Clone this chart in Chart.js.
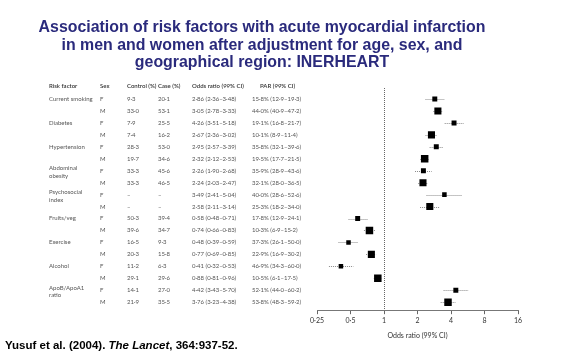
<!DOCTYPE html>
<html>
<head>
<meta charset="utf-8">
<script src="https://cdn.jsdelivr.net/npm/chart.js@4.4.0/dist/chart.umd.min.js"></script>
<style>
  body { margin: 0; background: #fff; }
  #wrap { position: relative; width: 571px; height: 360px; overflow: hidden; }
  #chart { position: absolute; left: 0; top: 0; }
  #title {
    position: absolute; left: 0; top: 18px; width: 524px;
    text-align: center; font: bold 15.9px "Liberation Sans", Arial, sans-serif;
    line-height: 17.5px; color: #2a2a7c;
  }
  #cite {
    position: absolute; left: 5px; top: 339px;
    font: bold 11.5px "Liberation Sans", Arial, sans-serif; color: #000;
  }
</style>
</head>
<body>
<div id="wrap">
  <canvas id="chart" width="571" height="360"></canvas>
  <div id="title">Association of risk factors with acute myocardial infarction<br>in men and women after adjustment for age, sex, and<br>geographical region: INERHEART</div>
  <div id="cite">Yusuf et al. (2004). <i>The Lancet</i>, 364:937-52.</div>
</div>
<script>
// Table rows (F/M pairs per risk factor)
var riskFactors = ['Current smoking', 'Diabetes', 'Hypertension', 'Abdominal\nobesity',
    'Psychosocial\nindex', 'Fruits/veg', 'Exercise', 'Alcohol', 'ApoB/ApoA1\nratio'];
var sexes = ['F', 'M'];
var controlPct = ['9·3', '33·0', '7·9', '7·4', '28·3', '19·7', '33·3', '33·3', '–', '–',
    '50·3', '39·6', '16·5', '20·3', '11·2', '29·1', '14·1', '21·9'];
var casePct = ['20·1', '53·1', '25·5', '16·2', '53·0', '34·6', '45·6', '46·5', '–', '–',
    '39·4', '34·7', '9·3', '15·8', '6·3', '29·6', '27·0', '35·5'];
var oddsRatio = [2.86, 3.05, 4.26, 2.67, 2.95, 2.32, 2.26, 2.24, 3.49, 2.58,
    0.58, 0.74, 0.48, 0.77, 0.41, 0.88, 4.42, 3.76];
var ciLow = [2.36, 2.78, 3.51, 2.36, 2.57, 2.12, 1.90, 2.03, 2.41, 2.11,
    0.48, 0.66, 0.39, 0.69, 0.32, 0.81, 3.43, 3.23];
var ciHigh = [3.48, 3.33, 5.18, 3.02, 3.39, 2.53, 2.68, 2.47, 5.04, 3.14,
    0.71, 0.83, 0.59, 0.85, 0.53, 0.96, 5.70, 4.38];
var parText = ['15·8% (12·9–19·3)', '44·0% (40·9–47·2)', '19·1% (16·8–21·7)', '10·1% (8·9–11·4)',
    '35·8% (32·1–39·6)', '19·5% (17·7–21·5)', '35·9% (28·9–43·6)', '32·1% (28·0–36·5)',
    '40·0% (28·6–52·6)', '25·3% (18·2–34·0)', '17·8% (12·9–24·1)', '10·3% (6·9–15·2)',
    '37·3% (26·1–50·0)', '22·9% (16·9–30·2)', '46·9% (34·3–60·0)', '10·5% (6·1–17·5)',
    '52·1% (44·0–60·2)', '53·8% (48·3–59·2)'];
var xTicks = [0.25, 0.5, 1, 2, 4, 8, 16];
var headers = ['Risk factor', 'Sex', 'Control (%)', 'Case (%)', 'Odds ratio (99% CI)', 'PAR (99% CI)'];

// marker half-sizes (style only)
var markerRadius = [3.5, 5, 3.5, 5, 3.5, 5.3, 3.5, 5, 3.2, 5, 3.5, 5.3, 3.2, 5, 3.2, 5.3, 3.5, 5.3];

var fmt = function (v) { return v.toFixed(2).replace('.', '·'); };

var points = oddsRatio.map(function (v, i) { return { x: v, y: i }; });

var tableFont = '6px Lato, "DejaVu Sans", sans-serif';
var colX = [49, 100, 127, 158, 192, 252];

var tablePlugin = {
    id: 'forestTable',
    beforeDatasetsDraw: function (chart) {
        var c = chart.ctx, xs = chart.scales.x, ys = chart.scales.y;
        // confidence intervals
        c.save();
        c.strokeStyle = '#8a8a8a';
        c.lineWidth = 1;
        c.setLineDash([1, 1]);
        for (var i = 0; i < oddsRatio.length; i++) {
            var y = Math.round(ys.getPixelForValue(i)) + 0.5;
            c.beginPath();
            c.moveTo(xs.getPixelForValue(ciLow[i]), y);
            c.lineTo(xs.getPixelForValue(ciHigh[i]), y);
            c.stroke();
        }
        c.restore();
    },
    afterDraw: function (chart) {
        var c = chart.ctx, ys = chart.scales.y;
        c.save();
        c.textBaseline = 'middle';
        c.textAlign = 'left';
        // header
        c.font = '600 6px Lato, "DejaVu Sans", sans-serif';
        c.fillStyle = '#333';
        var hy = ys.getPixelForValue(-1.1);
        headers.forEach(function (h, k) {
            c.fillText(h, k === 5 ? 260 : colX[k], hy);
        });
        c.font = tableFont;
        c.fillStyle = '#555';
        for (var i = 0; i < oddsRatio.length; i++) {
            var y = ys.getPixelForValue(i);
            if (i % 2 === 0) {
                var lines = riskFactors[i / 2].split('\n');
                if (lines.length === 1) {
                    c.fillText(lines[0], colX[0], y);
                } else {
                    c.fillText(lines[0], colX[0], y - 2.5);
                    c.fillText(lines[1], colX[0], y + 5);
                }
            }
            c.fillText(sexes[i % 2], colX[1], y);
            c.fillText(controlPct[i], colX[2], y);
            c.fillText(casePct[i], colX[3], y);
            c.fillText(fmt(oddsRatio[i]) + ' (' + fmt(ciLow[i]) + '–' + fmt(ciHigh[i]) + ')', colX[4], y);
            c.fillText(parText[i], colX[5], y);
        }
        c.restore();
    }
};

new Chart(document.getElementById('chart').getContext('2d'), {
    type: 'scatter',
    data: {
        datasets: [{
            data: points,
            pointStyle: 'rect',
            pointRadius: markerRadius,
            pointHoverRadius: markerRadius,
            backgroundColor: '#000',
            borderColor: '#000',
            borderWidth: 0
        }]
    },
    options: {
        responsive: false,
        animation: false,
        devicePixelRatio: 1,
        layout: { padding: { left: 317, right: 53, top: 88, bottom: 20 } },
        plugins: { legend: { display: false }, tooltip: { enabled: false } },
        scales: {
            x: {
                type: 'logarithmic',
                min: 0.25,
                max: 16,
                afterBuildTicks: function (scale) {
                    scale.ticks = xTicks.map(function (v) { return { value: v }; });
                },
                ticks: {
                    autoSkip: false,
                    maxRotation: 0,
                    padding: 2,
                    color: '#333',
                    font: { size: 7, family: 'Lato, "DejaVu Sans", sans-serif' },
                    callback: function (v) { return String(v).replace('.', '·'); }
                },
                grid: {
                    color: function (ctx) { return ctx.tick && ctx.tick.value === 1 ? '#666' : 'rgba(0,0,0,0)'; },
                    tickColor: '#666',
                    tickLength: 4
                },
                border: { color: '#777', dash: [1, 1] },
                title: {
                    display: true,
                    text: 'Odds ratio (99% CI)',
                    color: '#333',
                    font: { size: 7, family: 'Lato, "DejaVu Sans", sans-serif' },
                    padding: { top: 5, bottom: 0 }
                }
            },
            y: {
                type: 'linear',
                reverse: true,
                min: -0.92,
                max: 17.67,
                display: false
            }
        }
    },
    plugins: [tablePlugin]
});
</script>
</body>
</html>
